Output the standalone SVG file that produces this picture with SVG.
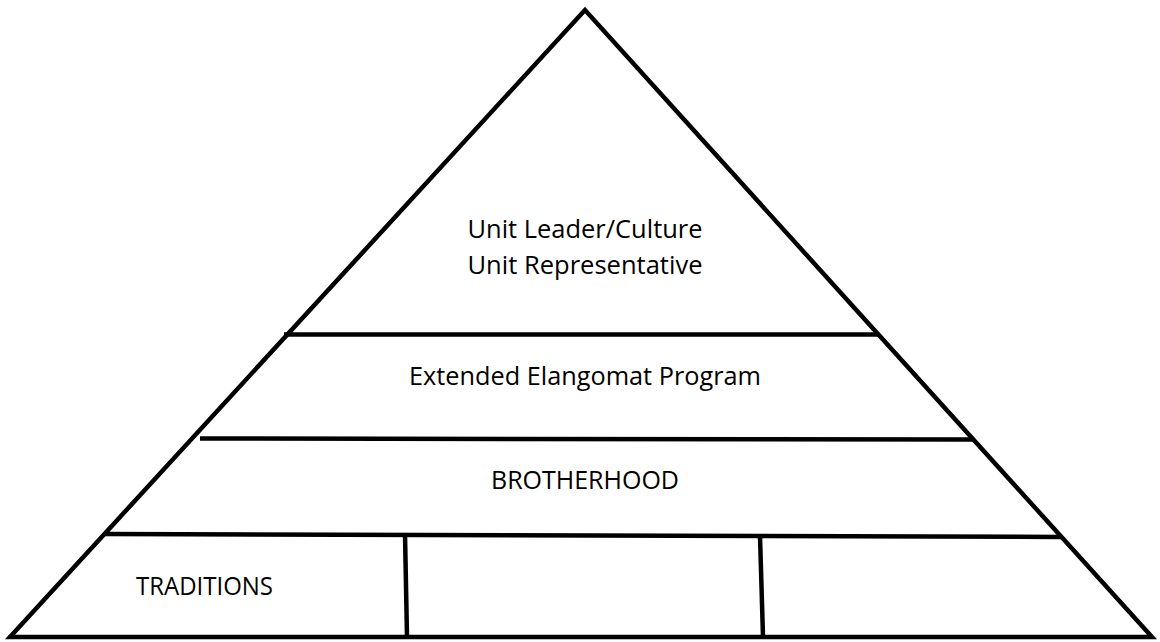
<svg xmlns="http://www.w3.org/2000/svg" width="1160" height="642" viewBox="0 0 1160 642">
<style>
.ln{stroke:#000;stroke-width:4.5;fill:none}
.t{font-family:"Open Sans","Liberation Sans",sans-serif;font-size:25px;fill:#000}
</style>
<rect width="1160" height="642" fill="#fff"/>
<g id="pyramid">
<polygon class="ln" points="585,10 10,637 1152,637" stroke-linejoin="miter"/>
</g>
<g id="dividers">
<line class="ln" x1="284" y1="334.5" x2="879" y2="334.5"/>
<line class="ln" x1="200" y1="438.5" x2="974" y2="439.5"/>
<line class="ln" x1="105" y1="534" x2="1062" y2="537"/>
<line class="ln" x1="405" y1="534" x2="407" y2="637"/>
<line class="ln" x1="760" y1="536" x2="763" y2="637"/>
</g>
<g id="tier-top">
<text class="t" x="585" y="238" text-anchor="middle" textLength="235" lengthAdjust="spacingAndGlyphs">Unit Leader/Culture</text>
<text class="t" x="585" y="274" text-anchor="middle" textLength="235" lengthAdjust="spacingAndGlyphs">Unit Representative</text>
</g>
<g id="tier-elangomat">
<text class="t" x="585" y="385" text-anchor="middle" textLength="352" lengthAdjust="spacingAndGlyphs">Extended Elangomat Program</text>
</g>
<g id="tier-brotherhood">
<text class="t" x="585" y="489" text-anchor="middle">BROTHERHOOD</text>
</g>
<g id="tier-traditions">
<text class="t" x="136" y="595" textLength="137" lengthAdjust="spacingAndGlyphs">TRADITIONS</text>
</g>
</svg>
